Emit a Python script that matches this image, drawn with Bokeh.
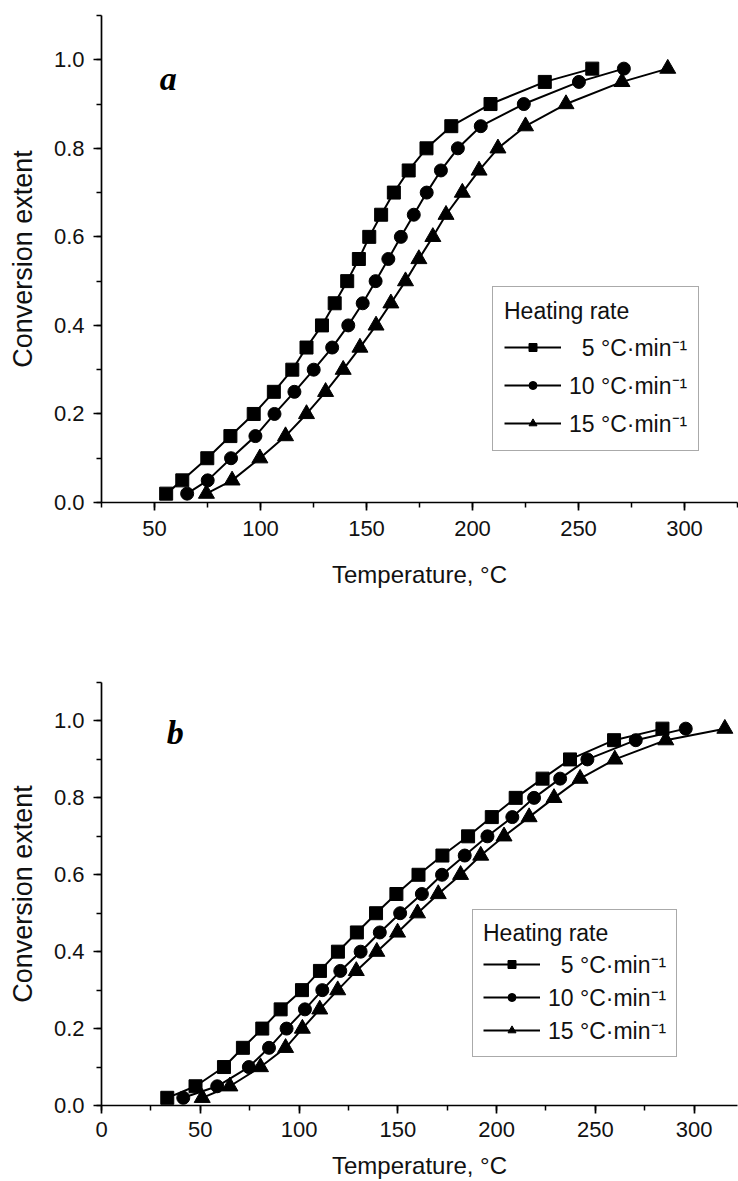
from bokeh.plotting import figure
from bokeh.models import (Range1d, SingleIntervalTicker, PrintfTickFormatter,
                          Legend, LegendItem, Label)
from bokeh.layouts import column
from bokeh.embed import file_html
from bokeh.resources import INLINE

# ---------------- data ----------------
alpha = [0.02, 0.05, 0.10, 0.15, 0.20, 0.25, 0.30, 0.35, 0.40, 0.45, 0.50,
         0.55, 0.60, 0.65, 0.70, 0.75, 0.80, 0.85, 0.90, 0.95, 0.98]

# panel a : temperature (°C) at which each conversion extent is reached
a_rate5 = [55.5, 63.1, 74.9, 85.8, 96.8, 106.3, 115.0, 121.7, 129.0, 135.0, 140.9,
           146.4, 151.3, 156.9, 162.9, 169.9, 178.3, 190.0, 208.5, 234.1, 256.5]
a_rate10 = [65.4, 75.1, 86.1, 97.6, 106.6, 116.0, 125.1, 133.8, 141.4, 148.2, 154.3,
            160.3, 166.2, 172.3, 178.4, 185.1, 193.1, 203.9, 224.2, 250.2, 271.4]
a_rate15 = [74.5, 86.6, 99.7, 111.8, 121.7, 130.7, 139.0, 146.9, 154.5, 161.5, 168.4,
            174.7, 181.3, 187.5, 195.2, 203.1, 212.0, 225.0, 244.1, 270.5, 292.1]

# panel b
b_rate5 = [33.3, 47.6, 62.0, 71.6, 81.4, 90.7, 101.5, 110.6, 119.7, 129.3, 139.0,
           149.3, 160.5, 172.6, 185.6, 197.6, 209.7, 223.3, 237.2, 259.5, 284.0]
b_rate10 = [41.4, 58.6, 74.6, 84.8, 93.7, 103.0, 111.8, 120.9, 131.2, 140.9, 151.2,
            162.2, 172.4, 183.9, 195.4, 208.0, 219.0, 232.2, 246.0, 270.5, 295.8]
b_rate15 = [51.0, 65.0, 80.5, 93.2, 101.7, 110.5, 119.6, 129.0, 139.4, 149.9, 160.0,
            170.5, 181.8, 192.0, 203.8, 216.5, 229.1, 242.3, 259.9, 285.7, 315.6]

rate_labels = ["\u20075 \u00b0C\u00b7min\u207b\u00b9",
               "10 \u00b0C\u00b7min\u207b\u00b9",
               "15 \u00b0C\u00b7min\u207b\u00b9"]
legend_title = "Heating rate"
x_label = "Temperature, \u00b0C"
y_label = "Conversion extent"

FONT = "Liberation Sans"
TXT = "#111111"


def style(p, tick_standoff, xlab_standoff):
    for ax in (p.xaxis[0], p.yaxis[0]):
        ax.axis_line_color = "black"
        ax.axis_line_width = 1.7
        ax.major_tick_line_color = "black"
        ax.major_tick_line_width = 1.7
        ax.minor_tick_line_color = "black"
        ax.minor_tick_line_width = 1.5
        ax.major_tick_out = 8
        ax.major_tick_in = 0
        ax.minor_tick_out = 5
        ax.minor_tick_in = 0
        ax.major_label_text_font = FONT
        ax.major_label_text_font_size = "22px"
        ax.major_label_text_color = TXT
        ax.axis_label_text_font = FONT
        ax.axis_label_text_font_style = "normal"
        ax.axis_label_text_color = TXT
    p.xaxis.axis_label_text_font_size = "24px"
    p.yaxis.axis_label_text_font_size = "27px"
    p.xaxis.major_label_standoff = tick_standoff
    p.yaxis.major_label_standoff = 9
    p.xaxis.axis_label_standoff = xlab_standoff
    p.yaxis.axis_label_standoff = 13
    p.xgrid.visible = False
    p.ygrid.visible = False
    p.outline_line_color = None
    p.yaxis.ticker = SingleIntervalTicker(interval=0.2, num_minor_ticks=2)
    p.xaxis.ticker = SingleIntervalTicker(interval=50, num_minor_ticks=2)
    p.yaxis.formatter = PrintfTickFormatter(format="%.1f")
    p.xaxis.axis_label = x_label
    p.yaxis.axis_label = y_label


def panel(xr, fheight, btop, bbot, tick_so, xlab_so, s5, s10, s15, tag, tag_xy,
          leg_loc, leg_spacing, leg_pad, leg_tso):
    p = figure(frame_width=636, frame_height=fheight,
               x_range=Range1d(*xr), y_range=Range1d(0, 1.1),
               output_backend="svg", toolbar_location=None,
               min_border_left=101, min_border_right=1,
               min_border_top=btop, min_border_bottom=bbot)
    style(p, tick_so, xlab_so)
    rends = []
    for xs, mk, sz in ((s5, "square", 13), (s10, "circle", 13), (s15, "triangle", 16)):
        l = p.line(xs, alpha, line_color="black", line_width=2)
        s = p.scatter(xs, alpha, marker=mk, size=sz, fill_color="black", line_color="black")
        rends.append((l, s))
    items = [LegendItem(label=lab, renderers=[l, s]) for lab, (l, s) in zip(rate_labels, rends)]
    leg = Legend(items=items, location=leg_loc, title=legend_title, margin=0,
                 border_line_color="#555555", border_line_width=1.5,
                 background_fill_color="white", background_fill_alpha=1.0,
                 label_text_font=FONT, label_text_font_size="23px", label_text_color=TXT,
                 title_text_font=FONT, title_text_font_size="23px", title_text_font_style="normal",
                 title_text_color=TXT,
                 glyph_width=57, glyph_height=20, label_height=20, label_standoff=8,
                 spacing=leg_spacing, padding=leg_pad, title_standoff=leg_tso)
    p.add_layout(leg)
    p.add_layout(Label(x=tag_xy[0], y=tag_xy[1], text=tag, text_font="Liberation Serif",
                       text_font_style="bold italic", text_font_size="34px",
                       text_color="black", text_baseline="alphabetic"))
    return p


p1 = panel((25, 325), 487, 15, 105, 10, 22, a_rate5, a_rate10, a_rate15,
           "a", (52.5, 0.958), (391, 51), 6, 11, 6)
p2 = panel((0, 322), 423, 75, 75, 8, 12, b_rate5, b_rate10, b_rate15,
           "b", (33.0, 0.970), (371, 48), 1, 10, 1)

page = column(p1, p2, spacing=0)
open("out.html", "w").write(file_html(page, INLINE))
